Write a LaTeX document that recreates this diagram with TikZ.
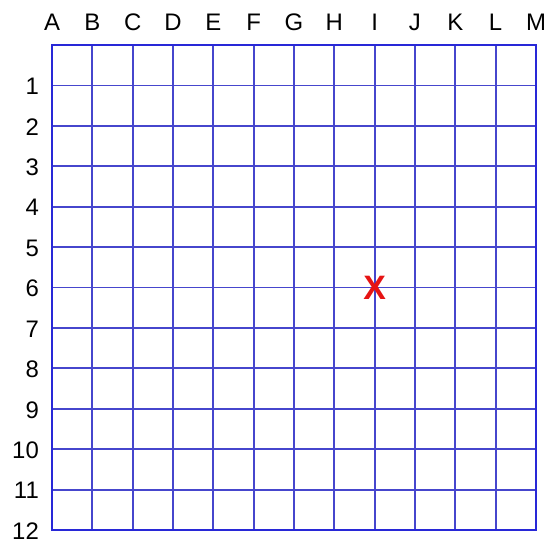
\documentclass[tikz,border=0pt]{standalone}
\usepackage{fontspec}
\setmainfont{Liberation Sans}
\usetikzlibrary{positioning}

\definecolor{gridblue}{RGB}{70,70,205}
\definecolor{edgeblue}{RGB}{40,40,215}
\definecolor{markred}{RGB}{230,20,20}

\begin{document}
\begin{tikzpicture}[
    x=40.33bp,
    y=-40.42bp,
    font=\fontsize{24}{28}\selectfont,
    gridline/.style={draw=gridblue, line width=1.8bp},
    border/.style={draw=edgeblue, line width=2.6bp},
    collabel/.style={inner sep=0pt, above=14bp},
    rowlabel/.style={inner sep=0pt, left=13bp, yshift=-1bp},
    marker/.style={inner sep=0pt, text=markred, font=\fontsize{34}{36}\selectfont\bfseries}
]
\useasboundingbox (-1.2894,-1.1133) rectangle (12.2985,12.2959);

% grid lines
\foreach \i in {1,...,11} {
    \draw[gridline] (\i,0) -- (\i,12);
    \draw[gridline] (0,\i) -- (12,\i);
}
\draw[border] (0,0) rectangle (12,12);

% column letters
\foreach \l [count=\i from 0] in {A,B,C,D,E,F,G,H,I,J,K,L,M}
    \node[collabel] (col\l) at (\i,0) {\l};

% row numbers
\foreach \r in {1,...,12}
    \node[rowlabel] (row\r) at (0,\r) {\r};

% the mark at I6
\node[marker] (mark) at (8,6) {X};

\end{tikzpicture}
\end{document}
